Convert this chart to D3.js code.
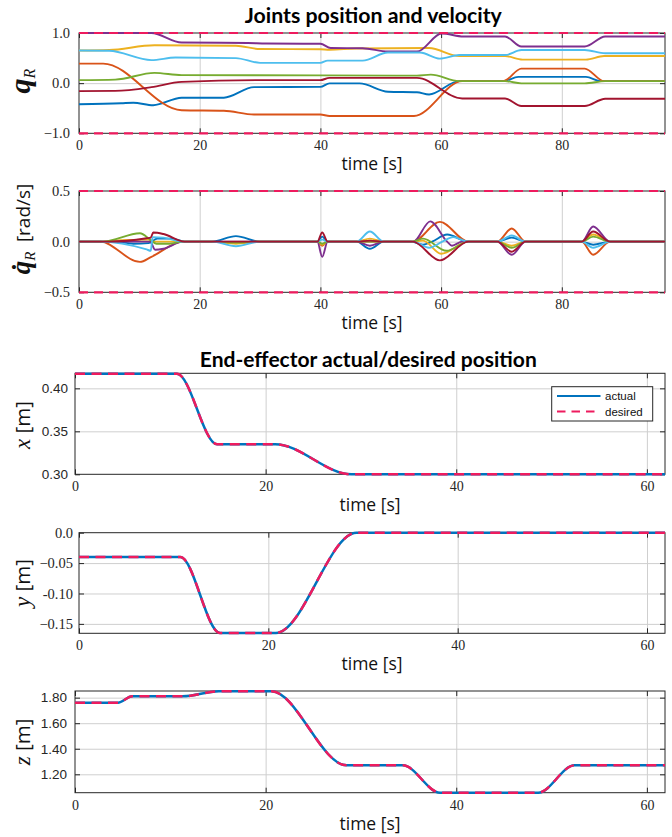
<!DOCTYPE html>
<html><head><meta charset="utf-8">
<script src="https://cdn.jsdelivr.net/npm/d3@7"></script>
<style>body{margin:0;background:#fff}</style>
</head><body>
<svg id="c" width="672" height="837"></svg>
<script>
// ---------------- DATA ----------------
const jointNames = ["q1","q2","q3","q4","q5","q6","q7"];
// joint positions [time s, rad]
const qBlue = [[0,-0.42],[7,-0.40],[9,-0.39],[12.3,-0.44],[17,-0.29],[24,-0.29],[29,-0.08],[40,-0.075],[41.5,-0.005],[46.5,-0.005],[51.2,-0.17],[56,-0.18],[58,-0.225],[63,0.04],[70.3,0.04],[72.8,0.125],[84,0.125],[86.5,0.04],[97.1,0.04]];
const qOrange = [[0,0.39],[4,0.39],[17,-0.54],[24,-0.55],[29,-0.625],[40,-0.625],[41.5,-0.655],[55.5,-0.655],[63.5,0.04],[70.3,0.04],[73.3,0.29],[83.8,0.29],[87,0.04],[97.1,0.04]];
const qYellow = [[0,0.65],[5,0.66],[12.5,0.755],[26,0.745],[30,0.68],[40,0.675],[41.5,0.665],[46,0.69],[58,0.70],[63,0.54],[70.6,0.54],[73.5,0.47],[84,0.47],[87,0.54],[97.1,0.54]];
const qPurple = [[0,1.0],[12,1.0],[17,0.81],[28,0.80],[31,0.79],[40,0.785],[41.7,0.70],[47,0.695],[51.2,0.63],[56,0.63],[60.1,0.99],[63.7,0.93],[70.6,0.93],[73.3,0.73],[83.8,0.73],[87.2,0.93],[97.1,0.93]];
const qGreen = [[0,0.06],[6,0.07],[12.5,0.205],[17,0.16],[40,0.155],[56,0.15],[58.3,0.17],[63,0.04],[70.6,0.04],[73.3,-0.005],[83.8,-0.005],[87.2,0.04],[97.1,0.04]];
const qLightBlue = [[0,0.65],[5,0.645],[12,0.46],[16,0.51],[26,0.50],[30,0.405],[40,0.405],[41.2,0.45],[47,0.45],[51.2,0.61],[56.5,0.61],[59.8,0.49],[63,0.56],[70.6,0.56],[73.3,0.66],[83.8,0.66],[87.2,0.595],[97.1,0.595]];
const qDarkRed = [[0,-0.16],[6,-0.155],[12,-0.08],[17,0.025],[30,0.06],[40,0.06],[41.5,0.105],[56,0.105],[63.5,-0.305],[70.6,-0.305],[73.3,-0.455],[83.8,-0.455],[87.2,-0.31],[97.1,-0.31]];

// joint velocities [time s, rad/s]
const dqBlue = [[0,0],[6,0],[9,-0.02],[11.5,-0.015],[13,0.03],[15.5,0.03],[17.5,0],[22,0],[26,0.055],[30,0],[39.5,0],[40.3,0.05],[41.2,0],[46,0],[48.2,-0.07],[50.5,0],[55,0],[57,-0.03],[58.5,0],[61,0.07],[64.5,0],[69.3,0],[71.7,0.04],[74,0],[83.3,0],[85.2,-0.03],[88,0],[97.1,0]];
const dqOrange = [[0,0],[3.5,0],[10.1,-0.2],[12,-0.15],[17.2,0],[22,0],[26,-0.015],[30,0],[39.5,0],[40.3,-0.04],[41.2,0],[55.3,0],[59.8,0.195],[64.5,0],[69.3,0],[71.7,0.13],[74,0],[83.3,0],[85.2,-0.13],[88,0],[97.1,0]];
const dqYellow = [[0,0],[4,0],[7,0.015],[11.5,0.02],[12.2,0],[22,0],[26,-0.02],[30,0],[39.5,0],[40.3,-0.03],[41.2,0],[46,0],[48.2,0.03],[50.5,0],[55.3,0],[57,0.01],[60,-0.12],[64.5,0],[69.3,0],[71.7,-0.04],[74,0],[83.3,0],[85.2,0.07],[88,0],[97.1,0]];
const dqPurple = [[0,0],[11.8,0],[12.6,-0.08],[14,-0.07],[17.2,0],[39.5,0],[40.3,-0.15],[41.2,0],[46,0],[48.2,-0.04],[50.5,0],[55.4,0],[58.2,0.2],[61,0],[61.8,-0.04],[63.5,0],[69.3,0],[71.7,-0.13],[74,0],[83.3,0],[85.2,0.15],[88,0],[97.1,0]];
const dqGreen = [[0,0],[4,0],[10.1,0.083],[11.8,0.02],[12.8,-0.02],[15,-0.02],[17.2,0],[22,0],[26,-0.01],[30,0],[39.5,0],[40.3,-0.02],[41.2,0],[55.3,0],[57,0.03],[60.9,-0.09],[64.5,0],[69.3,0],[71.7,-0.06],[74,0],[83.3,0],[85.2,0.05],[88,0],[97.1,0]];
const dqLightBlue = [[0,0],[3.5,0],[11.2,-0.077],[11.9,-0.09],[12.2,0.045],[14,0.04],[17.2,0],[22,0],[26,-0.045],[30,0],[39.5,0],[40.3,0.02],[41.2,0],[46,0],[48.2,0.1],[50.5,0],[55.3,0],[58,-0.06],[60.2,0],[62,0.045],[64.5,0],[69.3,0],[71.7,0.06],[74,0],[83.3,0],[85.2,-0.06],[88,0],[97.1,0]];
const dqDarkRed = [[0,0],[5,0],[11.2,0.033],[11.9,0.04],[12.3,0.09],[14,0.075],[17.5,0],[22,0],[39.5,0],[40.3,0.09],[41.2,0],[46,0],[48.2,0.01],[50.5,0],[55.3,0],[59.8,-0.185],[64.5,0],[69.3,0],[71.7,-0.1],[74,0],[83.3,0],[85.2,0.1],[88,0],[97.1,0]];

const qLimits = [-1, 1];
const dqLimits = [-0.5, 0.5];

// end-effector [time s, m]
const eeXActual  = [[0,0.417],[10.7,0.417],[14.9,0.335],[21,0.335],[29,0.300],[61.9,0.300]];
const eeXDesired = [[0,0.417],[10.7,0.417],[14.9,0.335],[21,0.335],[29,0.300],[61.9,0.300]];
const eeYActual  = [[0,-0.04],[10.7,-0.04],[14.9,-0.165],[20.8,-0.165],[29.3,0.0],[61.9,0.0]];
const eeYDesired = [[0,-0.04],[10.7,-0.04],[14.9,-0.165],[20.8,-0.165],[29.3,0.0],[61.9,0.0]];
const eeZActual  = [[0,1.76],[4.5,1.76],[6,1.81],[11.3,1.81],[15.1,1.85],[20.6,1.85],[28.5,1.27],[34.4,1.27],[38.3,1.056],[48.6,1.056],[52.4,1.27],[61.9,1.27]];
const eeZDesired = [[0,1.76],[4.5,1.76],[6,1.81],[11.3,1.81],[15.1,1.85],[20.6,1.85],[28.5,1.27],[34.4,1.27],[38.3,1.056],[48.6,1.056],[52.4,1.27],[61.9,1.27]];

// ticks
const jTimeTicks = [0,20,40,60,80];
const eeTimeTicks = [0,20,40,60];
const qTicks = [-1,0,1], qTickLabels = ["\u22121.0","0.0","1.0"];
const dqTicks = [-0.5,0,0.5], dqTickLabels = ["\u22120.5","0.0","0.5"];
const xTicks = [0.30,0.35,0.40], xTickLabels = ["0.30","0.35","0.40"];
const yTicks = [-0.15,-0.10,-0.05,0], yTickLabels = ["\u22120.15","-0.10","\u22120.05","0.0"];
const zTicks = [1.2,1.4,1.6,1.8], zTickLabels = ["1.20","1.40","1.60","1.80"];
const legendLabels = ["actual","desired"];

// ---------------- STYLE / LAYOUT ----------------
const jointColors = ["#0072BD","#D95319","#EDB120","#7E2F8E","#77AC30","#4DBEEE","#A2142F"];
const limitColor = "#EE1B5E";
const actualColor = "#0072BD";
const serif = "'Liberation Serif', 'Times New Roman', serif";
const sansLbl = "'Open Sans', 'DejaVu Sans', sans-serif";
const helv = "'Liberation Sans', Arial, sans-serif";
const axisColor = "#262626";
const gridColor = "#cfcfcf";

const svg = d3.select("#c");
let clipN = 0;

function makePanel(cfg) {
  const x = d3.scaleLinear().domain(cfg.xDomain).range([cfg.left, cfg.right]);
  const y = d3.scaleLinear().domain(cfg.yDomain).range([cfg.bottom, cfg.top]);
  const h = cfg.bottom - cfg.top, w = cfg.right - cfg.left;
  const g = svg.append("g");
  const cid = "clip" + (clipN++);
  svg.append("clipPath").attr("id", cid).append("rect")
    .attr("x", cfg.left).attr("y", cfg.top - 2).attr("width", w).attr("height", h + 4);

  // grid
  const gx = cfg.xTicks.filter(d => d > cfg.xDomain[0] && d < cfg.xDomain[1]);
  const gy = cfg.yTicks.filter(d => d > cfg.yDomain[0] && d < cfg.yDomain[1]);
  g.append("g").attr("transform", `translate(0,${cfg.bottom})`)
    .call(d3.axisBottom(x).tickValues(gx).tickSize(-h).tickFormat(""))
    .call(a => { a.select(".domain").remove(); a.selectAll("line").attr("stroke", gridColor).attr("stroke-width", 1); });
  g.append("g").attr("transform", `translate(${cfg.left},0)`)
    .call(d3.axisLeft(y).tickValues(gy).tickSize(-w).tickFormat(""))
    .call(a => { a.select(".domain").remove(); a.selectAll("line").attr("stroke", gridColor).attr("stroke-width", 1); });

  // box
  g.append("rect").attr("x", cfg.left).attr("y", cfg.top).attr("width", w).attr("height", h)
    .attr("fill", "none").attr("stroke", axisColor).attr("stroke-width", 1);

  // ticks
  const styleAxis = (a, fam, fs) => {
    a.select(".domain").remove();
    a.selectAll("line").attr("stroke", axisColor).attr("stroke-width", 1);
    a.selectAll("text").attr("font-family", fam).attr("font-size", fs).attr("fill", axisColor);
  };
  const xfs = 14;
  g.append("g").attr("transform", `translate(0,${cfg.bottom})`)
    .call(d3.axisBottom(x).tickValues(cfg.xTicks).tickSizeInner(-5).tickSizeOuter(0)
      .tickPadding(17 - 0.71 * xfs).tickFormat((d, i) => cfg.xLabels[i]))
    .call(a => styleAxis(a, serif, xfs));
  g.append("g").attr("transform", `translate(0,${cfg.top})`)
    .call(d3.axisTop(x).tickValues(cfg.xTicks).tickSizeInner(-5).tickSizeOuter(0).tickFormat(""))
    .call(a => styleAxis(a, serif, xfs));
  g.append("g").attr("transform", `translate(${cfg.left},0)`)
    .call(d3.axisLeft(y).tickValues(cfg.yTicks).tickSizeInner(-5).tickSizeOuter(0)
      .tickPadding(cfg.yPad).tickFormat((d, i) => cfg.yLabels[i]))
    .call(a => styleAxis(a, cfg.yFont, cfg.yfs));
  g.append("g").attr("transform", `translate(${cfg.right},0)`)
    .call(d3.axisRight(y).tickValues(cfg.yTicks).tickSizeInner(-5).tickSizeOuter(0).tickFormat(""))
    .call(a => styleAxis(a, serif, 12));

  const plot = svg.append("g").attr("clip-path", `url(#${cid})`);
  const line = d3.line().x(d => x(d[0])).y(d => y(d[1])).curve(d3.curveMonotoneX);

  // time label
  svg.append("text").attr("x", (cfg.left + cfg.right) / 2).attr("y", cfg.bottom + 37)
    .attr("text-anchor", "middle").attr("font-family", sansLbl).attr("font-size", 17.5)
    .attr("fill", "#111").text("time [s]");
  return { x, y, g, plot, line };
}

// ---------------- PANEL 1: joint positions ----------------
const p1 = makePanel({ left: 79, right: 665, top: 33, bottom: 133.3, xDomain: [0, 97.1], yDomain: [-1, 1],
  xTicks: jTimeTicks, xLabels: jTimeTicks.map(String), yTicks: qTicks, yLabels: qTickLabels,
  yPad: 9, yFont: serif, yfs: 14.5 });
const qSeries = [qBlue, qOrange, qYellow, qPurple, qGreen, qLightBlue, qDarkRed];
p1.plot.selectAll("path.q").data(qSeries).join("path").attr("class", "q")
  .attr("d", p1.line).attr("fill", "none").attr("stroke", (d, i) => jointColors[i]).attr("stroke-width", 1.9);
svg.append("g").selectAll("line").data(qLimits).join("line")
  .attr("x1", p1.x(0)).attr("x2", p1.x(97.1)).attr("y1", d => p1.y(d)).attr("y2", d => p1.y(d))
  .attr("stroke", limitColor).attr("stroke-width", 2.2).attr("stroke-dasharray", "9,6");

// ---------------- PANEL 2: joint velocities ----------------
const p2 = makePanel({ left: 79, right: 665, top: 191, bottom: 292.3, xDomain: [0, 97.1], yDomain: [-0.5, 0.5],
  xTicks: jTimeTicks, xLabels: jTimeTicks.map(String), yTicks: dqTicks, yLabels: dqTickLabels,
  yPad: 9, yFont: serif, yfs: 14.5 });
const dqSeries = [dqBlue, dqOrange, dqYellow, dqPurple, dqGreen, dqLightBlue, dqDarkRed];
p2.plot.selectAll("path.dq").data(dqSeries).join("path").attr("class", "dq")
  .attr("d", p2.line).attr("fill", "none").attr("stroke", (d, i) => jointColors[i]).attr("stroke-width", 1.9);
svg.append("g").selectAll("line").data(dqLimits).join("line")
  .attr("x1", p2.x(0)).attr("x2", p2.x(97.1)).attr("y1", d => p2.y(d)).attr("y2", d => p2.y(d))
  .attr("stroke", limitColor).attr("stroke-width", 2.2).attr("stroke-dasharray", "9,6");

// ---------------- PANELS 3-5: end-effector ----------------
function eePanel(cfg, actual, desired) {
  const p = makePanel(cfg);
  p.plot.append("path").attr("d", p.line(actual)).attr("fill", "none")
    .attr("stroke", actualColor).attr("stroke-width", 2.5);
  p.plot.append("path").attr("d", p.line(desired)).attr("fill", "none")
    .attr("stroke", limitColor).attr("stroke-width", 2.5).attr("stroke-dasharray", "10,6.5");
  return p;
}
const p3 = eePanel({ left: 75, right: 665, top: 373.3, bottom: 474.3, xDomain: [0, 61.9], yDomain: [0.30, 0.4175],
  xTicks: eeTimeTicks, xLabels: eeTimeTicks.map(String), yTicks: xTicks, yLabels: xTickLabels,
  yPad: 7, yFont: helv, yfs: 13.5 }, eeXActual, eeXDesired);
const p4 = eePanel({ left: 79, right: 665, top: 532.7, bottom: 633.3, xDomain: [0, 61.9], yDomain: [-0.1655, 0],
  xTicks: eeTimeTicks, xLabels: eeTimeTicks.map(String), yTicks: yTicks, yLabels: yTickLabels,
  yPad: 6, yFont: serif, yfs: 14.5 }, eeYActual, eeYDesired);
const p5 = eePanel({ left: 75, right: 665, top: 691, bottom: 792.7, xDomain: [0, 61.9], yDomain: [1.056, 1.852],
  xTicks: eeTimeTicks, xLabels: eeTimeTicks.map(String), yTicks: zTicks, yLabels: zTickLabels,
  yPad: 8, yFont: helv, yfs: 13.5 }, eeZActual, eeZDesired);

// legend (panel 3)
const lg = svg.append("g");
lg.append("rect").attr("x", 551.7).attr("y", 386.7).attr("width", 101).attr("height", 34.3)
  .attr("fill", "#fff").attr("stroke", axisColor).attr("stroke-width", 1);
lg.selectAll("line").data(legendLabels).join("line")
  .attr("x1", 557).attr("x2", 600.5).attr("y1", (d, i) => 396 + i * 15.5).attr("y2", (d, i) => 396 + i * 15.5)
  .attr("stroke", (d, i) => i ? limitColor : actualColor).attr("stroke-width", 2.2)
  .attr("stroke-dasharray", (d, i) => i ? "8.5,6" : null);
lg.selectAll("text").data(legendLabels).join("text")
  .attr("x", 605).attr("y", (d, i) => 396 + i * 15.5).attr("dy", "0.35em")
  .attr("font-family", helv).attr("font-size", 11.5).attr("fill", "#111").text(d => d);

// ---------------- TITLES ----------------
function title(txt, cx, by, width) {
  svg.append("text").attr("x", cx).attr("y", by).attr("text-anchor", "middle")
    .attr("font-family", "Lato, 'Open Sans', sans-serif").attr("font-weight", "bold").attr("font-size", 20.5)
    .attr("fill", "#000").attr("textLength", width).attr("lengthAdjust", "spacingAndGlyphs").text(txt);
}
title("Joints position and velocity", 373.3, 23.3, 257);
title("End-effector actual/desired position", 368.3, 367.3, 337);

// ---------------- Y LABELS ----------------
function ylab(cx, cy, parts) {
  const t = svg.append("text").attr("transform", `translate(${cx},${cy}) rotate(-90)`)
    .attr("text-anchor", "middle").attr("fill", "#111");
  parts.forEach(p => {
    const s = t.append("tspan").text(p.t).attr("font-family", p.f).attr("font-size", p.s);
    if (p.i) s.attr("font-style", "italic");
    if (p.b) s.attr("font-weight", "bold");
    if (p.dy) s.attr("dy", p.dy);
  });
}
ylab(30, 81, [{ t: "q", f: serif, s: 30, i: 1, b: 1 }, { t: "R", f: serif, s: 16, i: 1, dy: 5 }]);
ylab(30, 229, [{ t: "q\u0307", f: serif, s: 27, i: 1, b: 1 }, { t: "R", f: serif, s: 15, i: 1, dy: 5 },
  { t: "\u2002[rad/s]", f: sansLbl, s: 19, dy: -5 }]);
ylab(30, 425, [{ t: "x", f: serif, s: 23, i: 1 }, { t: " [m]", f: sansLbl, s: 20.5 }]);
ylab(30, 583, [{ t: "y", f: serif, s: 23, i: 1 }, { t: " [m]", f: sansLbl, s: 20.5 }]);
ylab(30, 742, [{ t: "z", f: serif, s: 23, i: 1 }, { t: " [m]", f: sansLbl, s: 20.5 }]);
</script>
</body></html>
